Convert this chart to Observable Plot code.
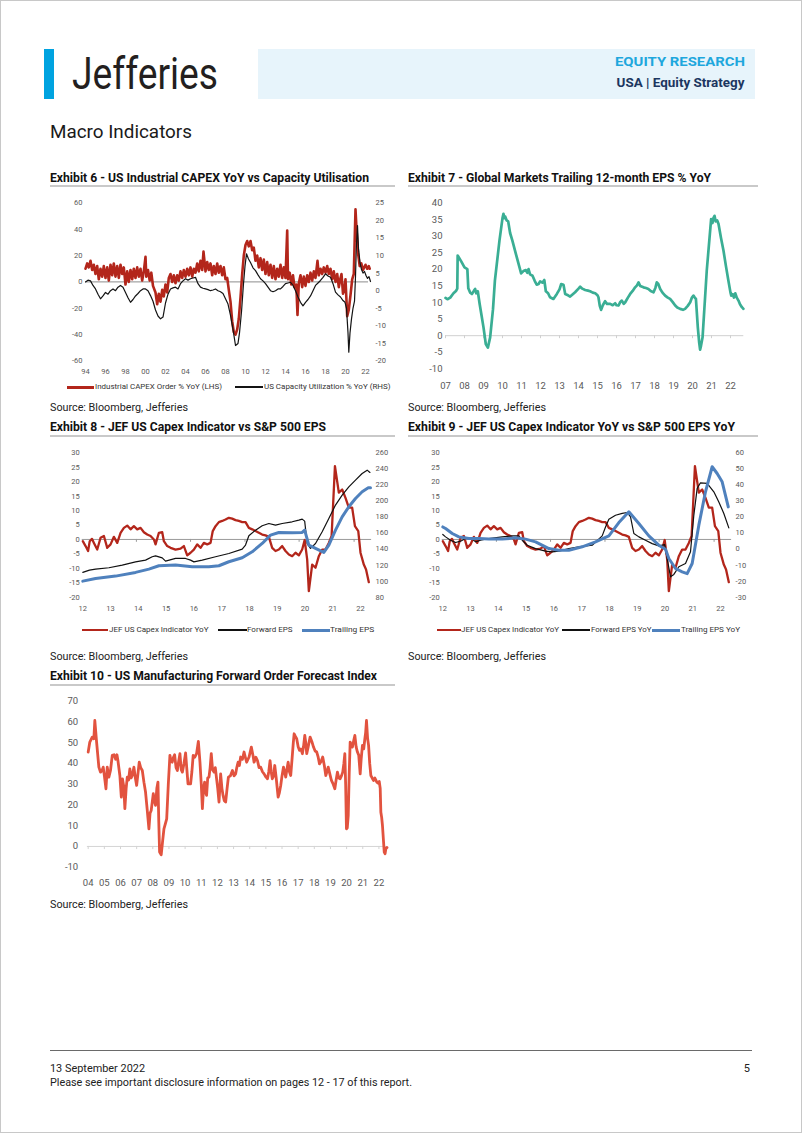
<!DOCTYPE html>
<html><head><meta charset="utf-8">
<script src="https://cdn.jsdelivr.net/npm/d3@7"></script>
<script src="https://cdn.jsdelivr.net/npm/@observablehq/plot@0.6"></script>
<style>
html,body{margin:0;padding:0;background:#fff;}
#page{position:relative;width:802px;height:1133px;overflow:hidden;font-family:Roboto,"Noto Sans",sans-serif;color:#1a1a1a;}
.t{position:absolute;white-space:nowrap;line-height:1;}
.b{position:absolute;}
</style></head><body><div id="page"></div>
<script>
// ---------------- DATA ----------------
// Exhibit 6: Industrial CAPEX order % YoY (LHS) and US capacity utilisation % YoY (RHS)
const capexOrdersYoY = [
[1994.0,10],[1994.17,14],[1994.33,11],[1994.5,16],[1994.67,9],[1994.83,13],
[1995.0,6],[1995.17,12],[1995.33,2],[1995.5,10],[1995.67,4],[1995.83,12],
[1996.0,3],[1996.17,11],[1996.33,1],[1996.5,13],[1996.67,5],[1996.83,14],
[1997.0,4],[1997.17,12],[1997.33,3],[1997.5,13],[1997.67,6],[1997.83,11],
[1998.0,-2],[1998.17,8],[1998.33,0],[1998.5,9],[1998.67,2],[1998.83,10],
[1999.0,3],[1999.17,11],[1999.33,4],[1999.5,10],[1999.67,1],[1999.83,8],
[2000.0,19],[2000.08,4],[2000.25,9],[2000.42,1],[2000.58,7],[2000.75,-3],
[2001.0,-8],[2001.17,-17],[2001.33,-9],[2001.5,-15],[2001.67,-6],[2001.83,-11],
[2002.0,-2],[2002.17,-8],[2002.33,3],[2002.5,6],[2002.67,0],[2002.83,5],
[2003.0,-1],[2003.17,5],[2003.33,1],[2003.5,8],[2003.67,3],[2003.83,9],
[2004.0,4],[2004.17,10],[2004.33,5],[2004.5,11],[2004.67,4],[2004.83,10],
[2005.0,7],[2005.17,14],[2005.33,8],[2005.5,16],[2005.67,9],[2005.8,23],
[2006.0,8],[2006.17,15],[2006.33,9],[2006.5,14],[2006.67,5],[2006.83,12],
[2007.0,6],[2007.17,14],[2007.33,7],[2007.5,12],[2007.67,5],[2007.83,11],
[2008.0,2],[2008.17,3],[2008.33,-6],[2008.5,-15],[2008.67,-30],[2008.83,-38],
[2009.0,-40],[2009.17,-36],[2009.33,-28],[2009.5,-12],[2009.67,6],[2009.83,20],
[2010.0,28],[2010.17,31],[2010.33,27],[2010.5,31],[2010.67,24],[2010.83,26],
[2011.0,16],[2011.17,20],[2011.33,11],[2011.5,18],[2011.67,9],[2011.83,17],
[2012.0,6],[2012.17,15],[2012.33,5],[2012.5,13],[2012.67,3],[2012.83,12],
[2013.0,2],[2013.17,10],[2013.33,4],[2013.5,13],[2013.67,3],[2013.83,11],
[2014.0,3],[2014.17,39],[2014.25,2],[2014.42,7],[2014.58,-2],[2014.75,5],[2014.9,-4],
[2015.08,-2],[2015.2,-25],[2015.33,-1],[2015.5,5],[2015.67,-4],[2015.83,4],
[2016.0,-3],[2016.17,5],[2016.33,0],[2016.5,7],[2016.67,1],[2016.83,8],
[2017.0,3],[2017.2,16],[2017.33,5],[2017.5,10],[2017.67,6],[2017.83,11],
[2018.0,7],[2018.17,12],[2018.33,6],[2018.5,10],[2018.67,2],[2018.83,8],
[2019.0,0],[2019.17,6],[2019.33,-4],[2019.5,3],[2019.6,6],[2019.75,-9],[2019.9,-5],
[2020.0,2],[2020.17,-26],[2020.33,-21],[2020.5,-10],[2020.67,2],[2020.83,6],
[2021.0,55],[2021.1,40],[2021.25,22],[2021.42,12],[2021.58,14],[2021.75,9],
[2022.0,13],[2022.17,10],[2022.33,12],[2022.42,10]
];
const capacityUtilYoY = [
[1994.0,2.5],[1994.25,3],[1994.5,2.8],[1994.75,1.5],[1995.0,0.5],[1995.25,-1],[1995.5,-2.3],[1995.75,-1.5],
[1996.0,-0.5],[1996.25,-1],[1996.5,0],[1996.75,0.5],[1997.0,0],[1997.25,1],[1997.5,1.5],[1997.75,1],
[1998.0,-0.5],[1998.25,-2],[1998.5,-3.3],[1998.75,-2.5],[1999.0,-1.5],[1999.25,-0.8],[1999.5,0],[1999.75,0.5],
[2000.0,0.5],[2000.25,0],[2000.5,-1.4],[2000.75,-3],[2001.0,-5.5],[2001.25,-7.2],[2001.5,-8],[2001.75,-7.5],
[2002.0,-3.5],[2002.25,-1],[2002.5,0.5],[2002.75,0.8],[2003.0,1],[2003.25,0.5],[2003.5,2],[2003.75,2.8],
[2004.0,3.4],[2004.25,3],[2004.5,3.4],[2004.75,3.6],[2005.0,3.8],[2005.25,2],[2005.5,1],[2005.75,0.7],
[2006.0,0.5],[2006.25,0.3],[2006.5,0],[2006.75,0.2],[2007.0,0.5],[2007.25,0],[2007.5,-0.3],[2007.75,-0.8],
[2008.0,-2.3],[2008.25,-3.8],[2008.5,-7],[2008.75,-11],[2009.0,-15.6],[2009.25,-15],[2009.4,-12],[2009.6,-6],
[2009.8,2],[2009.95,7],[2010.1,10.5],[2010.3,9],[2010.5,8],[2010.75,6.5],[2011.0,5.7],[2011.25,4.5],
[2011.5,3.4],[2011.75,2.8],[2012.0,2],[2012.25,1],[2012.5,0],[2012.75,-0.3],[2013.0,0],[2013.25,0.5],
[2013.5,0.5],[2013.75,1.2],[2014.0,2],[2014.25,2.2],[2014.5,2.4],[2014.75,1.5],[2015.0,0],[2015.25,-1.8],
[2015.5,-3.3],[2015.75,-4.3],[2016.0,-3.3],[2016.25,-2.5],[2016.5,-1.5],[2016.75,0],[2017.0,1.5],[2017.25,2.2],
[2017.5,2.9],[2017.75,3.8],[2018.0,4.8],[2018.25,4.2],[2018.5,3.8],[2018.75,2],[2019.0,-0.4],[2019.25,-1.2],
[2019.5,-1.8],[2019.75,-2.8],[2019.95,-3.3],[2020.1,-5],[2020.25,-12],[2020.33,-17.5],[2020.45,-12],[2020.6,-8],
[2020.75,-5],[2020.9,-3],[2021.0,4],[2021.08,12],[2021.2,18.5],[2021.3,12],[2021.45,8],[2021.6,6],
[2021.75,5],[2021.9,5.5],[2022.05,4.3],[2022.2,3.5],[2022.35,4],[2022.5,2.6]
];
const ex6LeftTicks = [-60,-40,-20,0,20,40,60];
const ex6RightTicks = [-20,-15,-10,-5,0,5,10,15,20,25];
const ex6YearTicks = [1994,1996,1998,2000,2002,2004,2006,2008,2010,2012,2014,2016,2018,2020,2022];

// Exhibit 7: Global markets trailing 12-month EPS % YoY
const globalEpsYoY = [
[2007.0,11.4],[2007.1,11.0],[2007.25,11.5],[2007.42,12.8],[2007.55,13.5],[2007.62,14.2],[2007.64,24.2],[2007.82,22.5],
[2008.0,20.6],[2008.15,20.1],[2008.2,14.3],[2008.3,13.0],[2008.39,12.6],[2008.5,13.6],[2008.56,14.1],[2008.62,12.8],
[2008.7,13.4],[2008.8,9.5],[2008.9,6],[2009.0,2.5],[2009.12,-2.5],[2009.23,-3.6],[2009.35,-0.5],[2009.5,8],
[2009.6,16.6],[2009.84,28.7],[2010.0,35.5],[2010.05,36.8],[2010.1,35.5],[2010.14,36],[2010.22,34.8],[2010.3,34.5],
[2010.4,31],[2010.52,28.7],[2010.75,23.7],[2010.98,18.8],[2011.1,19.5],[2011.23,19.8],[2011.3,19],[2011.37,20.1],
[2011.45,18.5],[2011.58,18.1],[2011.7,16.5],[2011.8,15.4],[2011.9,15.6],[2011.98,16.4],[2012.1,16],[2012.2,16.8],
[2012.28,13.4],[2012.4,12.8],[2012.5,11.6],[2012.68,11.1],[2012.86,12.6],[2013.0,14],[2013.09,15.6],[2013.21,15.4],
[2013.3,12.6],[2013.45,12.2],[2013.56,11.8],[2013.7,12.5],[2013.82,13.1],[2014.0,14.2],[2014.09,14.8],[2014.2,14.2],
[2014.35,13.8],[2014.5,13.6],[2014.61,13.4],[2014.75,13.0],[2014.88,12.8],[2015.0,12.2],[2015.05,11.6],[2015.12,9],
[2015.19,7.8],[2015.28,9.2],[2015.4,10.4],[2015.5,9.6],[2015.67,9.6],[2015.8,9.2],[2015.93,9.8],[2016.0,9.2],
[2016.11,9.1],[2016.2,10.2],[2016.28,10.6],[2016.38,9.6],[2016.46,10.1],[2016.6,11.5],[2016.72,12.6],[2016.85,13.5],
[2016.98,14.6],[2017.08,15.2],[2017.16,16.1],[2017.25,15],[2017.42,14.6],[2017.55,14.4],[2017.68,14.1],[2017.8,13.5],
[2017.95,13.1],[2018.05,14.5],[2018.12,16.1],[2018.2,15.6],[2018.3,14.1],[2018.42,13],[2018.56,12.1],[2018.7,11.5],
[2018.82,11.1],[2018.95,10.2],[2019.09,9.1],[2019.2,8.5],[2019.35,8.1],[2019.5,7.8],[2019.61,8.1],[2019.75,9],
[2019.88,10.1],[2019.97,11.5],[2020.05,12.1],[2020.12,11.5],[2020.18,11.1],[2020.28,2.5],[2020.35,-2],[2020.4,-4.2],
[2020.45,-3],[2020.53,-0.5],[2020.75,19.6],[2020.98,35.2],[2021.05,34],[2021.1,35.5],[2021.16,36.2],[2021.22,34.5],
[2021.3,34.8],[2021.37,33.7],[2021.5,29.5],[2021.63,25.7],[2021.76,21],[2021.89,16.6],[2022.0,13],[2022.04,12.1],
[2022.12,12.5],[2022.18,11.5],[2022.25,12.8],[2022.33,11.5],[2022.42,10.6],[2022.5,9.5],[2022.6,8.6],[2022.68,8.1]
];
const ex7YTicks = [-10,-5,0,5,10,15,20,25,30,35,40];
const ex7YearTicks = [2007,2008,2009,2010,2011,2012,2013,2014,2015,2016,2017,2018,2019,2020,2021,2022];

// Exhibits 8 & 9: JEF US capex indicator YoY (LHS)
const jefCapexYoY = [
[2012.0,-0.6],[2012.1,-2.3],[2012.19,-4],[2012.25,-0.6],[2012.33,0.2],[2012.4,-1.2],[2012.52,-3.5],[2012.64,0.6],
[2012.76,1.2],[2012.88,-2.9],[2013.0,-1.7],[2013.12,0.9],[2013.24,-1.2],[2013.36,2.3],[2013.48,4],[2013.6,4.8],
[2013.72,3.5],[2013.84,4.6],[2013.96,3.5],[2014.08,4],[2014.2,2.5],[2014.32,1.7],[2014.44,1.2],[2014.56,0],
[2014.62,-1.7],[2014.74,2.3],[2014.86,2.5],[2014.92,-0.6],[2015.04,-2.3],[2015.16,-2.9],[2015.34,-3.5],[2015.52,-3.2],
[2015.64,-2.3],[2015.76,-5.5],[2015.88,-4.6],[2016.0,-3.5],[2016.12,-1.7],[2016.24,-2.9],[2016.36,-1.2],[2016.48,-1.7],
[2016.6,-1.2],[2016.68,2.9],[2016.78,4.6],[2016.9,6],[2017.02,6.4],[2017.14,6.9],[2017.26,7.5],[2017.38,7.2],
[2017.5,6.7],[2017.62,6.4],[2017.74,6],[2017.86,6],[2017.98,4],[2018.1,3.5],[2018.22,2.9],[2018.34,2.3],
[2018.46,1.7],[2018.58,1.4],[2018.7,0.9],[2018.82,-2.9],[2018.94,-4],[2019.06,-3.5],[2019.18,-2.3],[2019.3,-4],
[2019.42,-5.2],[2019.54,-5.8],[2019.66,-4.6],[2019.78,-5.5],[2019.9,-3.5],[2019.99,-0.2],[2020.08,-6.9],[2020.14,-17.9],
[2020.26,-8.7],[2020.38,-9.8],[2020.5,-5.8],[2020.62,-3.5],[2020.74,-3.5],[2020.86,-1.2],[2020.96,1.2],[2021.08,25.4],
[2021.22,16.2],[2021.34,17.3],[2021.46,14.4],[2021.58,11],[2021.7,11],[2021.8,4.6],[2021.92,2.9],[2022.0,-4.6],
[2022.12,-8.7],[2022.2,-10.4],[2022.3,-14.8]
];
// Exhibit 8: S&P 500 forward / trailing EPS (RHS)
const forwardEps = [
[2012.0,110.9],[2012.24,113.8],[2012.46,115],[2012.94,116.7],[2013.42,120],[2013.9,124],[2014.26,126.2],[2014.5,130.4],
[2014.62,131.6],[2014.86,129.1],[2014.98,125],[2015.34,128.3],[2015.7,128.3],[2015.88,126.2],[2016.0,124],[2016.3,126.2],
[2016.78,130.4],[2017.26,134.5],[2017.74,140],[2017.86,145],[2017.98,156.6],[2018.22,163.6],[2018.46,169],[2018.7,171.9],
[2018.94,169.8],[2019.18,171.9],[2019.54,174],[2019.78,176.1],[2019.9,177.3],[2019.99,174.8],[2020.08,147],[2020.2,140.8],
[2020.38,147],[2020.62,161.5],[2020.86,178.2],[2021.1,194.8],[2021.34,207.2],[2021.58,217.6],[2021.82,226],[2022.06,234.2],
[2022.24,238.4],[2022.34,235.5]
];
const trailingEps = [
[2012.0,100],[2012.46,103.4],[2013.18,106.3],[2013.9,110.9],[2014.38,115],[2014.74,119.2],[2015.34,120],[2015.94,117.9],
[2016.54,117.9],[2016.9,119.2],[2017.26,124.2],[2017.74,129.1],[2018.1,136.6],[2018.46,147],[2018.76,157.4],[2019.06,160.7],
[2019.54,160.3],[2019.9,160.7],[2019.99,163.6],[2020.14,144.9],[2020.38,140.8],[2020.68,135.8],[2020.86,144.9],[2021.1,163.6],
[2021.34,180.2],[2021.58,192.7],[2021.82,203.1],[2022.06,211.4],[2022.28,216.4],[2022.36,216.4]
];
// Exhibit 9: S&P 500 forward / trailing EPS YoY (RHS)
const forwardEpsYoY = [
[2012.0,9.1],[2012.1,7.6],[2012.28,5.5],[2012.46,4.1],[2012.64,4.9],[2012.82,6.6],[2013.0,7],[2013.18,4.5],
[2013.36,5.5],[2013.66,6.6],[2014.14,7.6],[2014.5,8.2],[2014.74,8.2],[2014.86,5.5],[2015.04,2.4],[2015.34,0.3],
[2015.7,-1.3],[2015.94,-1.7],[2016.18,-1.3],[2016.54,0.3],[2016.9,1.4],[2017.38,2.4],[2017.74,8.2],[2017.86,13.8],
[2017.98,18.6],[2018.22,21.1],[2018.46,22.2],[2018.64,22.8],[2018.76,20.1],[2018.88,9.7],[2019.06,7.6],[2019.3,5.5],
[2019.54,3.4],[2019.78,2],[2019.99,2.8],[2020.08,-5.9],[2020.2,-17.3],[2020.32,-15.8],[2020.5,-11],[2020.74,-9],
[2020.92,-1.7],[2021.04,21.1],[2021.16,37.8],[2021.28,41.3],[2021.52,40.9],[2021.76,35.7],[2021.94,29.4],[2022.12,22.2],
[2022.3,13.2]
];
const trailingEpsYoY = [
[2012.0,13.8],[2012.1,12.8],[2012.34,9.7],[2012.58,7.6],[2012.94,6.6],[2013.3,6.6],[2013.66,6.2],[2014.14,6.2],
[2014.62,7],[2014.98,6.2],[2015.34,4.5],[2015.82,0.3],[2016.18,-0.7],[2016.54,-0.7],[2017.02,1.4],[2017.5,4.5],
[2017.98,8.2],[2018.34,16.5],[2018.7,23.2],[2019.06,15.9],[2019.42,8.2],[2019.78,2.4],[2020.02,-0.1],[2020.14,-5.9],
[2020.38,-12.1],[2020.62,-14.2],[2020.8,-15.3],[2020.98,-9],[2021.22,14.9],[2021.46,35.7],[2021.7,51.3],[2021.88,47.1],
[2022.06,41.9],[2022.28,26.3]
];
const ex8LeftTicks = [-20,-15,-10,-5,0,5,10,15,20,25,30];
const ex8RightTicks = [80,100,120,140,160,180,200,220,240,260];
const ex9RightTicks = [-30,-20,-10,0,10,20,30,40,50,60];
const ex8YearTicks = [2012,2013,2014,2015,2016,2017,2018,2019,2020,2021,2022];
const ex8AxisMarks = [2013.93,2015.88,2017.84,2019.79,2021.77];

// Exhibit 10: US manufacturing forward order forecast index
const mfgForwardOrders = [
[2004.0,45.5],[2004.1,50.3],[2004.25,52.7],[2004.35,51.9],[2004.41,60.7],[2004.52,50.3],[2004.66,38.2],[2004.76,35.8],
[2004.85,36.5],[2004.93,38.2],[2005.0,34.2],[2005.1,27.8],[2005.18,38.2],[2005.28,33.4],[2005.38,36.6],[2005.49,43.9],
[2005.6,44.2],[2005.7,42],[2005.78,44.2],[2005.84,41.4],[2005.96,34.2],[2006.05,23.8],[2006.12,32.6],[2006.2,29],
[2006.27,18.2],[2006.35,28],[2006.42,33.4],[2006.5,32],[2006.58,37.4],[2006.66,33],[2006.73,34.2],[2006.83,38.2],
[2006.92,33],[2007.0,29.4],[2007.08,35],[2007.16,40.6],[2007.25,38],[2007.35,36.6],[2007.45,31],[2007.55,26.2],
[2007.65,18],[2007.76,8.5],[2007.83,16],[2007.9,17.3],[2008.03,25.4],[2008.1,22],[2008.17,19.8],[2008.25,28],
[2008.32,31],[2008.37,12],[2008.42,-2.7],[2008.52,-4],[2008.6,2],[2008.69,8.5],[2008.78,11],[2008.86,13.3],
[2008.96,30],[2009.06,43.9],[2009.13,41],[2009.2,40.6],[2009.28,43],[2009.35,44.2],[2009.44,38],[2009.52,36.6],
[2009.6,41],[2009.68,44.7],[2009.76,37],[2009.83,35.8],[2009.93,40],[2010.03,45.1],[2010.1,38],[2010.18,30.2],
[2010.34,30.2],[2010.42,36],[2010.5,43.9],[2010.6,43],[2010.71,44.7],[2010.82,50.6],[2010.92,40.6],[2011.0,30],
[2011.07,18.2],[2011.14,28],[2011.21,31],[2011.27,26],[2011.33,24.6],[2011.4,33],[2011.48,33.4],[2011.55,38],
[2011.62,44.7],[2011.7,37],[2011.79,35.8],[2011.87,38],[2011.95,32.6],[2012.02,28],[2012.1,21.4],[2012.2,35],
[2012.28,28],[2012.35,24.6],[2012.43,22],[2012.51,21.4],[2012.6,28],[2012.68,33.4],[2012.8,34],[2012.93,36.6],
[2013.03,34],[2013.13,35],[2013.2,38],[2013.28,40.6],[2013.36,39],[2013.44,43.1],[2013.55,42],[2013.65,45.5],
[2013.73,43],[2013.81,40.6],[2013.96,43.1],[2014.1,47.9],[2014.2,44],[2014.27,40.6],[2014.38,43],[2014.48,41.4],
[2014.58,38],[2014.68,38.2],[2014.79,36],[2014.89,35],[2015.0,33.5],[2015.1,32.6],[2015.18,36],[2015.26,41.4],
[2015.33,36],[2015.4,32.6],[2015.48,34],[2015.55,39],[2015.64,33],[2015.76,23.8],[2015.84,26],[2015.92,29.4],
[2016.0,34],[2016.09,38.2],[2016.16,36],[2016.23,33.4],[2016.3,37],[2016.38,40.6],[2016.46,36],[2016.54,34.2],
[2016.62,42],[2016.7,50],[2016.75,54.3],[2016.83,53],[2016.91,51.9],[2017.0,48],[2017.08,46.3],[2017.17,47],
[2017.26,44.7],[2017.33,48],[2017.41,53.5],[2017.47,50],[2017.53,44.7],[2017.62,48],[2017.74,52.7],[2017.85,50.5],
[2017.95,47.9],[2018.05,46],[2018.15,45.5],[2018.24,43],[2018.32,39.8],[2018.42,41],[2018.52,43.1],[2018.62,39],
[2018.71,34.2],[2018.78,36],[2018.86,38.2],[2018.96,35],[2019.06,31.8],[2019.17,30],[2019.27,27.8],[2019.35,32],
[2019.43,35.8],[2019.52,33],[2019.6,32.6],[2019.68,34],[2019.76,35.8],[2019.83,40],[2019.89,44.7],[2019.94,30],
[2019.99,8.5],[2020.04,9],[2020.1,14.9],[2020.16,35],[2020.22,50.3],[2020.29,49],[2020.36,47.9],[2020.44,51],
[2020.51,53.5],[2020.59,48],[2020.67,45.5],[2020.75,44],[2020.84,35],[2020.9,42],[2020.98,48.7],[2021.06,47],
[2021.13,51.9],[2021.18,55],[2021.23,60.7],[2021.3,52],[2021.36,48.7],[2021.43,40],[2021.5,34.2],[2021.58,33],
[2021.67,31.8],[2021.75,33],[2021.87,31],[2021.95,30.5],[2022.02,31.3],[2022.08,28],[2022.12,16.5],[2022.17,14],
[2022.22,10.1],[2022.28,3],[2022.33,-2.7],[2022.38,-3.5],[2022.43,-1.1],[2022.5,-0.5]
];
const ex10YTicks = [-10,0,10,20,30,40,50,60,70];
const ex10YearTicks = [2004,2005,2006,2007,2008,2009,2010,2011,2012,2013,2014,2015,2016,2017,2018,2019,2020,2021,2022];

// ---------------- LAYOUT HELPERS ----------------
const page = document.getElementById("page");
function text(str, o) {
  const size = o.size || 11;
  const el = document.createElement("div");
  el.className = "t";
  el.textContent = str;
  Object.assign(el.style, {fontSize: size + "px", fontWeight: o.weight || 400, color: o.color || "#1a1a1a", top: (o.y - size * 0.5) + "px"});
  if (o.align === "right") { el.style.right = (802 - o.x) + "px"; el.style.transformOrigin = "right center"; }
  else { el.style.left = o.x + "px"; el.style.transformOrigin = "left center"; }
  page.appendChild(el);
  if (o.width) { const w = el.getBoundingClientRect().width; el.style.transform = "scaleX(" + (o.width / w) + ")"; }
  return el;
}
function box(x, y, w, h, color) {
  const el = document.createElement("div");
  el.className = "b";
  Object.assign(el.style, {left: x + "px", top: y + "px", width: w + "px", height: h + "px", background: color});
  page.appendChild(el);
}
function place(svg, x, y) {
  svg.style.position = "absolute"; svg.style.left = x + "px"; svg.style.top = y + "px";
  page.appendChild(svg);
}
const yy = d => String(d).slice(2);
const num = d => String(d);
function baseStyle(fs) { return {fontFamily: "Roboto", fontSize: fs + "px", color: "#595959", background: "transparent", overflow: "visible"}; }

// ---------------- HEADER ----------------
box(0, 0, 802, 1, "#c8c8c8"); box(0, 1132, 802, 1, "#c8c8c8"); box(0, 0, 1, 1133, "#c8c8c8"); box(801, 0, 1, 1133, "#c8c8c8");
box(44, 49, 10, 50, "#00a3e0");
text("Jefferies", {x: 72, y: 74, size: 44, color: "#231f20", width: 146});
box(258, 49, 497, 50, "#e7f4fb");
text("EQUITY RESEARCH", {x: 745, y: 62, size: 13.5, weight: 700, color: "#1ea7dd", align: "right", width: 130});
text("USA | Equity Strategy", {x: 745, y: 83, size: 13.5, weight: 700, color: "#1c3660", align: "right", width: 128});
text("Macro Indicators", {x: 50, y: 132, size: 18, width: 142});

// Titles & rules
text("Exhibit 6 - US Industrial CAPEX YoY vs Capacity Utilisation", {x: 50, y: 178, size: 12.5, weight: 700, color: "#111", width: 319});
text("Exhibit 7 - Global Markets Trailing 12-month EPS % YoY", {x: 408, y: 178, size: 12.5, weight: 700, color: "#111", width: 303});
box(50, 185, 345, 2, "#c9c9c9"); box(408, 185, 350, 2, "#c9c9c9");
text("Exhibit 8 - JEF US Capex Indicator vs S&P 500 EPS", {x: 50, y: 427, size: 12.5, weight: 700, color: "#111", width: 276});
text("Exhibit 9 - JEF US Capex Indicator YoY vs S&P 500 EPS YoY", {x: 408, y: 427, size: 12.5, weight: 700, color: "#111", width: 327});
box(50, 435, 345, 2, "#c9c9c9"); box(408, 435, 350, 2, "#c9c9c9");
text("Exhibit 10 - US Manufacturing Forward Order Forecast Index", {x: 50, y: 676, size: 12.5, weight: 700, color: "#111", width: 327});
box(50, 684, 345, 2, "#c9c9c9");

const src = "Source: Bloomberg, Jefferies";
text(src, {x: 50, y: 407.5, size: 11, color: "#222", width: 138});
text(src, {x: 408, y: 407.5, size: 11, color: "#222", width: 138});
text(src, {x: 50, y: 656, size: 11, color: "#222", width: 138});
text(src, {x: 408, y: 656, size: 11, color: "#222", width: 138});
text(src, {x: 50, y: 904.5, size: 11, color: "#222", width: 138});

// Footer
box(50, 1050, 702, 1, "#6a6a6a");
text("13 September 2022", {x: 50, y: 1068, size: 11, color: "#222", width: 95});
text("5", {x: 750, y: 1068, size: 11, color: "#222", align: "right"});
text("Please see important disclosure information on pages 12 - 17 of this report.", {x: 50, y: 1082.5, size: 11, color: "#222", width: 362});

// ---------------- EXHIBIT 6 ----------------
const e6 = {width: 345, height: 195, marginLeft: 35, marginRight: 25, marginTop: 12.3, marginBottom: 24.5};
place(Plot.plot({...e6, style: baseStyle(7.5),
  x: {domain: [1994, 2022.5]}, y: {domain: [-60, 60]},
  marks: [
    Plot.ruleY([0], {x1: 1994, x2: 2022.3, stroke: "#8c8c8c", strokeWidth: 1}),
    Plot.axisY(ex6LeftTicks, {anchor: "left", tickSize: 0, tickPadding: 3, tickFormat: num, label: null}),
    Plot.axisX(ex6YearTicks, {anchor: "bottom", tickSize: 0, tickPadding: 8, tickFormat: yy, label: null}),
    Plot.line(capexOrdersYoY, {x: d => d[0], y: d => d[1], stroke: "#b3261b", strokeWidth: 2.6})
  ]}), 50, 190);
place(Plot.plot({...e6, style: baseStyle(7.5),
  x: {domain: [1994, 2022.5], axis: null}, y: {domain: [-20, 25]},
  marks: [
    Plot.axisY(ex6RightTicks, {anchor: "right", tickSize: 0, tickPadding: 5, tickFormat: num, label: null}),
    Plot.line(capacityUtilYoY, {x: d => d[0], y: d => d[1], stroke: "#141414", strokeWidth: 1.2})
  ]}), 50, 190);
box(67, 385.5, 27, 3, "#b3261b");
text("Industrial CAPEX Order % YoY (LHS)", {x: 94.5, y: 387, size: 7.5, color: "#333", width: 127});
box(235, 386.3, 28, 1.4, "#141414");
text("US Capacity Utilization % YoY (RHS)", {x: 263.5, y: 387, size: 7.5, color: "#333", width: 126.5});

// ---------------- EXHIBIT 7 ----------------
place(Plot.plot({width: 355, height: 205, marginLeft: 40, marginRight: 16.7, marginTop: 12.7, marginBottom: 26.7,
  style: baseStyle(9.5),
  x: {domain: [2007, 2022.7]}, y: {domain: [-10, 40]},
  marks: [
    Plot.ruleY([0], {x1: 2007, x2: 2022.7, stroke: "#d0d0d0", strokeWidth: 1}),
    Plot.ruleX(ex7YearTicks, {y1: 0, y2: -0.9, stroke: "#d0d0d0"}),
    Plot.axisY(ex7YTicks, {anchor: "left", tickSize: 0, tickPadding: 3, tickFormat: num, label: null}),
    Plot.axisX(ex7YearTicks, {anchor: "bottom", tickSize: 0, tickPadding: 13, tickFormat: yy, label: null}),
    Plot.line(globalEpsYoY, {x: d => d[0], y: d => d[1], stroke: "#3aae94", strokeWidth: 2.7})
  ]}), 405, 190);

// ---------------- EXHIBIT 8 ----------------
const e8 = {width: 345, height: 200, marginLeft: 32.3, marginRight: 23.9, marginTop: 12.3, marginBottom: 43.3};
place(Plot.plot({...e8, style: baseStyle(7.5),
  x: {domain: [2012, 2022.4]}, y: {domain: [-20, 30]},
  marks: [
    Plot.ruleY([0], {x1: 2011.98, x2: 2022.4, stroke: "#9a9a9a", strokeWidth: 1}),
    Plot.ruleX(ex8AxisMarks, {y1: 0, y2: -1, stroke: "#9a9a9a"}),
    Plot.axisY(ex8LeftTicks, {anchor: "left", tickSize: 0, tickPadding: 3, tickFormat: num, label: null}),
    Plot.axisX(ex8YearTicks, {anchor: "bottom", tickSize: 0, tickPadding: 8, tickFormat: yy, label: null}),
    Plot.line(jefCapexYoY, {x: d => d[0], y: d => d[1], stroke: "#b3261b", strokeWidth: 2.3})
  ]}), 50, 440);
place(Plot.plot({...e8, style: baseStyle(7.5),
  x: {domain: [2012, 2022.4], axis: null}, y: {domain: [80, 260]},
  marks: [
    Plot.axisY(ex8RightTicks, {anchor: "right", tickSize: 0, tickPadding: 4, tickFormat: num, label: null}),
    Plot.line(forwardEps, {x: d => d[0], y: d => d[1], stroke: "#111", strokeWidth: 1.2}),
    Plot.line(trailingEps, {x: d => d[0], y: d => d[1], stroke: "#4f81bd", strokeWidth: 3})
  ]}), 50, 440);
box(81.7, 628.8, 26.6, 2.5, "#b3261b");
text("JEF US Capex Indicator YoY", {x: 108.5, y: 630, size: 7.5, color: "#333", width: 99.5});
box(218.3, 629.4, 28.4, 1.3, "#111");
text("Forward EPS", {x: 247, y: 630, size: 7.5, color: "#333", width: 45.5});
box(301.7, 628.5, 28.3, 3, "#4f81bd");
text("Trailing EPS", {x: 330, y: 630, size: 7.5, color: "#333", width: 44.3});

// ---------------- EXHIBIT 9 ----------------
const e9 = {width: 355, height: 200, marginLeft: 37.3, marginRight: 28.9, marginTop: 12.3, marginBottom: 43.3};
place(Plot.plot({...e9, style: baseStyle(7.5),
  x: {domain: [2012, 2022.4]}, y: {domain: [-20, 30]},
  marks: [
    Plot.ruleY([0], {x1: 2011.98, x2: 2022.4, stroke: "#9a9a9a", strokeWidth: 1}),
    Plot.ruleX(ex8AxisMarks, {y1: 0, y2: -1, stroke: "#9a9a9a"}),
    Plot.axisY(ex8LeftTicks, {anchor: "left", tickSize: 0, tickPadding: 3, tickFormat: num, label: null}),
    Plot.axisX(ex8YearTicks, {anchor: "bottom", tickSize: 0, tickPadding: 8, tickFormat: yy, label: null}),
    Plot.line(jefCapexYoY, {x: d => d[0], y: d => d[1], stroke: "#b3261b", strokeWidth: 2.3})
  ]}), 405, 440);
place(Plot.plot({...e9, style: baseStyle(7.5),
  x: {domain: [2012, 2022.4], axis: null}, y: {domain: [-30, 60]},
  marks: [
    Plot.axisY(ex9RightTicks, {anchor: "right", tickSize: 0, tickPadding: 4, tickFormat: num, label: null}),
    Plot.line(forwardEpsYoY, {x: d => d[0], y: d => d[1], stroke: "#111", strokeWidth: 1.2}),
    Plot.line(trailingEpsYoY, {x: d => d[0], y: d => d[1], stroke: "#4f81bd", strokeWidth: 3})
  ]}), 405, 440);
box(436.7, 628.8, 24, 2.5, "#b3261b");
text("JEF US Capex Indicator YoY", {x: 460.5, y: 630, size: 7.5, color: "#333", width: 98});
box(561.7, 629.4, 28.3, 1.3, "#111");
text("Forward EPS YoY", {x: 590.5, y: 630, size: 7.5, color: "#333", width: 60.5});
box(651.7, 628.5, 28.3, 3, "#4f81bd");
text("Trailing EPS YoY", {x: 680.5, y: 630, size: 7.5, color: "#333", width: 59});

// ---------------- EXHIBIT 10 ----------------
place(Plot.plot({width: 345, height: 205, marginLeft: 37.7, marginRight: 7.7, marginTop: 10.7, marginBottom: 28.3,
  style: baseStyle(9.5),
  x: {domain: [2004, 2022.55]}, y: {domain: [-10, 70]},
  marks: [
    Plot.ruleY([0], {x1: 2003.95, x2: 2022.55, stroke: "#d4d4d4", strokeWidth: 1}),
    Plot.ruleX(ex10YearTicks, {y1: 0, y2: -1.5, stroke: "#d4d4d4"}),
    Plot.axisY(ex10YTicks, {anchor: "left", tickSize: 0, tickPadding: 10, tickFormat: num, label: null}),
    Plot.axisX(ex10YearTicks, {anchor: "bottom", tickSize: 0, tickPadding: 12.5, tickFormat: yy, label: null}),
    Plot.line(mfgForwardOrders, {x: d => d[0], y: d => d[1], stroke: "#e2533f", strokeWidth: 2.8})
  ]}), 50, 690);
</script></body></html>
